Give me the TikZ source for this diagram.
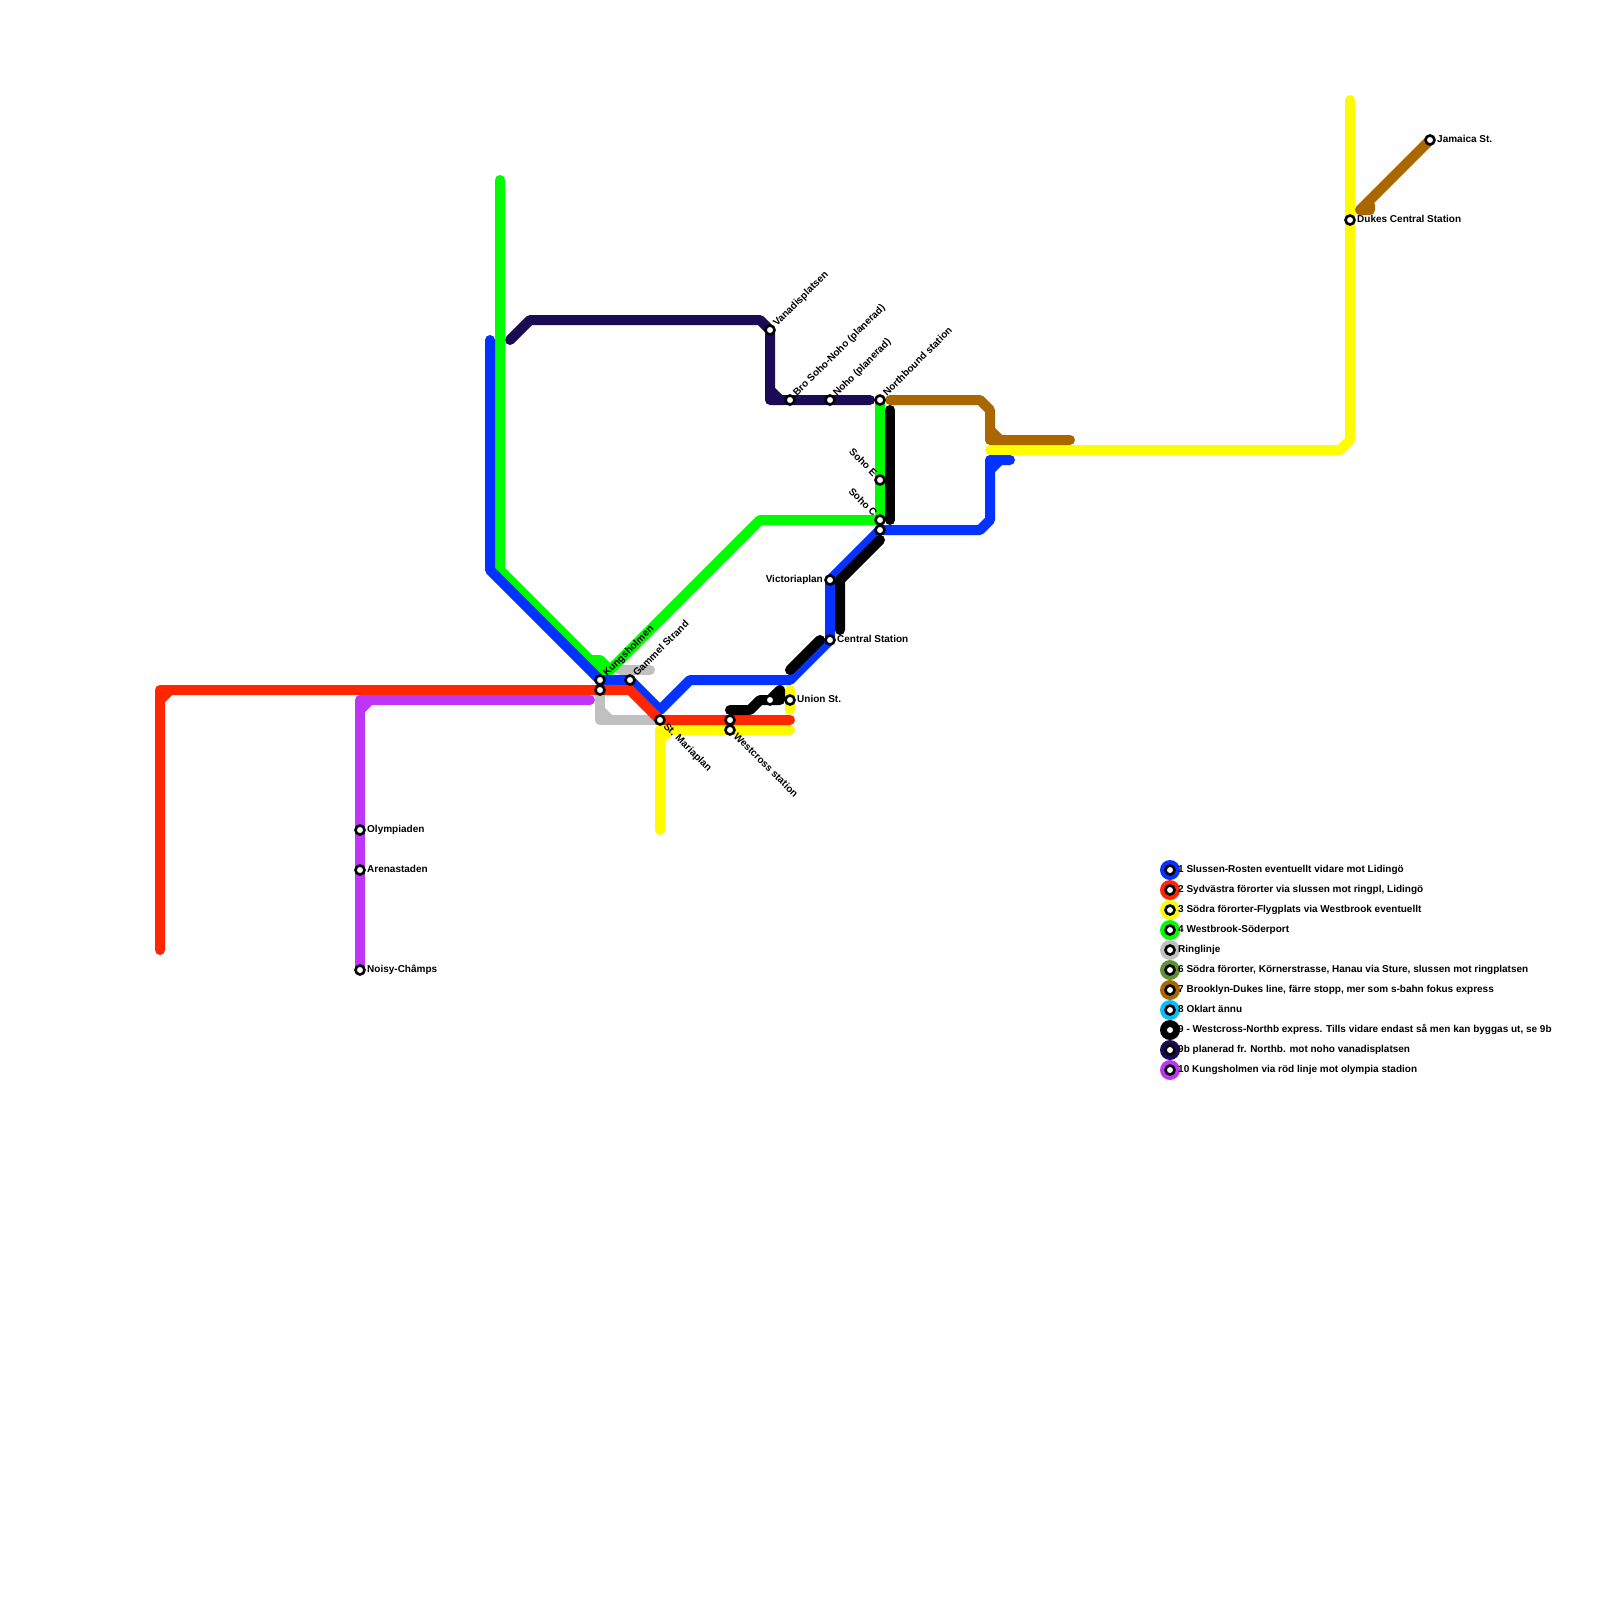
\documentclass[tikz,border=0pt]{standalone}
\usepackage{fontspec}
\setmainfont{Liberation Sans}
\usetikzlibrary{backgrounds}

\definecolor{lineblue}{HTML}{0433FF}
\definecolor{linered}{HTML}{FF2600}
\definecolor{lineyellow}{HTML}{FFFC00}
\definecolor{linegreen}{HTML}{00FC00}
\definecolor{linegrey}{HTML}{C0C0C0}
\definecolor{lineolive}{HTML}{5E9232}
\definecolor{linebrown}{HTML}{AA6700}
\definecolor{linecyan}{HTML}{00C0FF}
\definecolor{linedark}{HTML}{1B0A54}
\definecolor{linepurple}{HTML}{BE35F5}

\tikzset{
    metro/.style={line width=10pt, line cap=round, line join=round},
    station/.style={circle, draw=black, fill=white, line width=2.6pt, minimum size=9pt, inner sep=0pt},
    legenddot/.style={circle, minimum size=20pt, inner sep=0pt},
    stoptext/.style={font=\fontsize{10}{12}\bfseries\selectfont, inner sep=0pt, text height=5.5pt, text depth=0pt},
    labelright/.style={stoptext, anchor=west, xshift=7pt},
    labelleft/.style={stoptext, anchor=east, xshift=-7pt},
    labelup/.style={stoptext, anchor=west, xshift=5pt, yshift=5pt, rotate=45},
    labeldown/.style={stoptext, anchor=west, xshift=5pt, yshift=-5pt, rotate=-45},
    labelback/.style={stoptext, anchor=east, xshift=-5pt, yshift=5pt, rotate=-45},
    legendtext/.style={stoptext, anchor=west}
}

\begin{document}
\begin{tikzpicture}[x=1pt, y=-1pt]
    \useasboundingbox (0,0) rectangle (1600,1600);

    % Stations
    \node[station] (kungsholmen) at (600,680) {};
    \node[station] (kungsholmenred) at (600,690) {};
    \node[station] (gammel) at (630,680) {};
    \node[station] (maria) at (660,720) {};
    \node[station] (westcross) at (730,720) {};
    \node[station] (westcrossyellow) at (730,730) {};
    \node[station] (unnamed) at (770,700) {};
    \node[station] (union) at (790,700) {};
    \node[station] (central) at (830,640) {};
    \node[station] (victoria) at (830,580) {};
    \node[station] (sohoc) at (880,520) {};
    \node[station] (sohocblue) at (880,530) {};
    \node[station] (sohoe) at (880,480) {};
    \node[station] (northbound) at (880,400) {};
    \node[station] (noho) at (830,400) {};
    \node[station] (bro) at (790,400) {};
    \node[station] (vanadis) at (770,330) {};
    \node[station] (olympiaden) at (360,830) {};
    \node[station] (arena) at (360,870) {};
    \node[station] (noisy) at (360,970) {};
    \node[station] (dukes) at (1350,220) {};
    \node[station] (jamaica) at (1430,140) {};

    % Station names
    \node[labelup] (kungsholmentext) at (kungsholmen) {Kungsholmen};
    \node[labelup] (gammeltext) at (gammel) {Gammel Strand};
    \node[labeldown] (mariatext) at (maria) {St. Mariaplan};
    \node[labeldown] (westcrosstext) at (westcrossyellow) {Westcross station};
    \node[labelright] (uniontext) at (union) {Union St.};
    \node[labelright] (centraltext) at (central) {Central Station};
    \node[labelleft] (victoriatext) at (victoria) {Victoriaplan};
    \node[labelback] (sohoctext) at (sohoc) {Soho C};
    \node[labelback] (sohoetext) at (sohoe) {Soho E};
    \node[labelup] (northboundtext) at (northbound) {Northbound station};
    \node[labelup] (nohotext) at (noho) {Noho (planerad)};
    \node[labelup] (brotext) at (bro) {Bro Soho-Noho (planerad)};
    \node[labelup] (vanadistext) at (vanadis) {Vanadisplatsen};
    \node[labelright] (olympiadentext) at (olympiaden) {Olympiaden};
    \node[labelright] (arenatext) at (arena) {Arenastaden};
    \node[labelright] (noisytext) at (noisy) {Noisy-Châmps};
    \node[labelright] (dukestext) at (dukes) {Dukes Central Station};
    \node[labelright] (jamaicatext) at (jamaica) {Jamaica St.};

    \begin{scope}[on background layer]
        % Ringlinje
        \draw[metro, linegrey] (kungsholmenred.center) -- (600,720) -- (maria.center);
        \draw[metro, linegrey] (600,710) -- (610,720);
        \draw[metro, linegrey] (620,670) -- (650,670);

        % Line 4
        \draw[metro, linegreen] (500,180) -- (500,570) -- (600,670) -- (kungsholmen.center);
        \draw[metro, linegreen] (590,660) -- (600,660) -- (610,670);
        \draw[metro, linegreen] (northbound.center) -- (sohoe.center) -- (sohoc.center) -- (760,520) -- (kungsholmen.center);

        % Line 3
        \draw[metro, lineyellow] (660,830) -- (660,730) -- (westcrossyellow.center) -- (790,730);
        \draw[metro, lineyellow] (660,740) -- (670,730);
        \draw[metro, lineyellow] (790,690) -- (union.center) -- (790,710);
        \draw[metro, lineyellow] (990,450) -- (1340,450) -- (1350,440) -- (dukes.center) -- (1350,100);

        % Line 7
        \draw[metro, linebrown] (890,400) -- (980,400) -- (990,410) -- (990,440) -- (1070,440);
        \draw[metro, linebrown] (990,430) -- (1000,440);
        \draw[metro, linebrown] (jamaica.center) -- (1360,210) -- (1370,210) -- (1370,205);

        % Line 1
        \draw[metro, lineblue] (490,340) -- (490,570) -- (kungsholmen.center) -- (gammel.center) -- (660,710) -- (690,680) -- (790,680) -- (central.center) -- (victoria.center) -- (sohocblue.center) -- (980,530) -- (990,520) -- (990,470) -- (1000,460) -- (1010,460);
        \draw[metro, lineblue] (990,470) -- (990,460) -- (1000,460);

        % Line 2
        \draw[metro, linered] (160,950) -- (160,690) -- (kungsholmenred.center) -- (630,690) -- (maria.center) -- (westcross.center) -- (790,720);
        \draw[metro, linered] (160,700) -- (170,690);

        % Line 10
        \draw[metro, linepurple] (noisy.center) -- (arena.center) -- (olympiaden.center) -- (360,700) -- (590,700);
        \draw[metro, linepurple] (360,710) -- (370,700);

        % Line 9b
        \draw[metro, linedark] (510,340) -- (530,320) -- (760,320) -- (vanadis.center) -- (770,400) -- (bro.center) -- (noho.center) -- (870,400);
        \draw[metro, linedark] (770,390) -- (780,400);

        % Line 9
        \draw[metro, black] (890,410) -- (890,520);
        \draw[metro, black] (880,540) -- (840,580) -- (840,630);
        \draw[metro, black] (790,670) -- (820,640);
        \draw[metro, black] (730,710) -- (750,710) -- (760,700) -- (unnamed.center) -- (780,700) -- (780,690) -- (770,700);
    \end{scope}

    % Legend
    \node[legenddot, fill=lineblue] (legend1) at (1170,870) {};
    \node[station] (legend1stop) at (legend1) {};
    \node[legendtext] (legend1text) at (1178,870) {1 Slussen-Rosten eventuellt vidare mot Lidingö};

    \node[legenddot, fill=linered] (legend2) at (1170,890) {};
    \node[station] (legend2stop) at (legend2) {};
    \node[legendtext] (legend2text) at (1178,890) {2 Sydvästra förorter via slussen mot ringpl, Lidingö};

    \node[legenddot, fill=lineyellow] (legend3) at (1170,910) {};
    \node[station] (legend3stop) at (legend3) {};
    \node[legendtext] (legend3text) at (1178,910) {3 Södra förorter-Flygplats via Westbrook eventuellt};

    \node[legenddot, fill=linegreen] (legend4) at (1170,930) {};
    \node[station] (legend4stop) at (legend4) {};
    \node[legendtext] (legend4text) at (1178,930) {4 Westbrook-Söderport};

    \node[legenddot, fill=linegrey] (legend5) at (1170,950) {};
    \node[station] (legend5stop) at (legend5) {};
    \node[legendtext] (legend5text) at (1178,950) {Ringlinje};

    \node[legenddot, fill=lineolive] (legend6) at (1170,970) {};
    \node[station] (legend6stop) at (legend6) {};
    \node[legendtext] (legend6text) at (1178,970) {6 Södra förorter, Körnerstrasse, Hanau via Sture, slussen mot ringplatsen};

    \node[legenddot, fill=linebrown] (legend7) at (1170,990) {};
    \node[station] (legend7stop) at (legend7) {};
    \node[legendtext] (legend7text) at (1178,990) {7 Brooklyn-Dukes line, färre stopp, mer som s-bahn fokus express};

    \node[legenddot, fill=linecyan] (legend8) at (1170,1010) {};
    \node[station] (legend8stop) at (legend8) {};
    \node[legendtext] (legend8text) at (1178,1010) {8 Oklart ännu};

    \node[legenddot, fill=black] (legend9) at (1170,1030) {};
    \node[station] (legend9stop) at (legend9) {};
    \node[legendtext] (legend9text) at (1178,1030) {9 - Westcross-Northb express. Tills vidare endast så men kan byggas ut, se 9b};

    \node[legenddot, fill=linedark] (legend9b) at (1170,1050) {};
    \node[station] (legend9bstop) at (legend9b) {};
    \node[legendtext] (legend9btext) at (1178,1050) {9b planerad fr. Northb. mot noho vanadisplatsen};

    \node[legenddot, fill=linepurple] (legend10) at (1170,1070) {};
    \node[station] (legend10stop) at (legend10) {};
    \node[legendtext] (legend10text) at (1178,1070) {10 Kungsholmen via röd linje mot olympia stadion};

\end{tikzpicture}
\end{document}
